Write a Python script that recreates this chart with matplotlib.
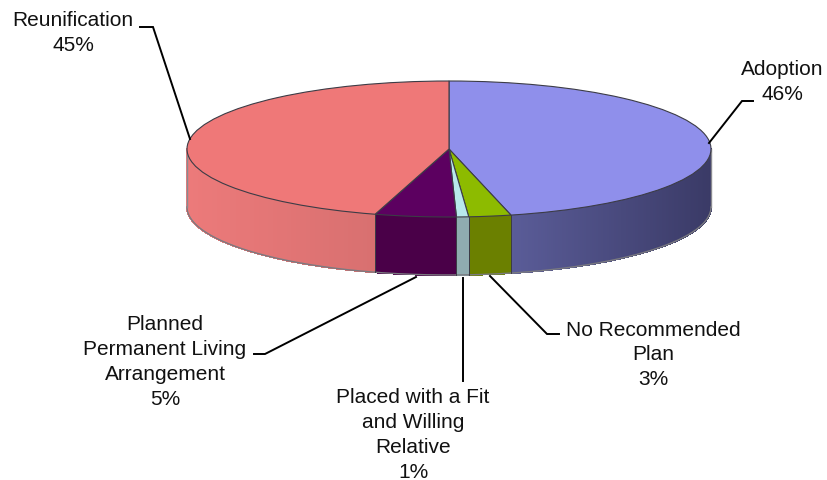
import numpy as np
import matplotlib
matplotlib.use("Agg")
import matplotlib.pyplot as plt
from matplotlib.lines import Line2D
from matplotlib.colors import to_rgb

plt.rcParams['font.family'] = ['Liberation Sans', 'DejaVu Sans']

categories = ["Adoption", "No Recommended\nPlan", "Placed with a Fit\nand Willing\nRelative",
              "Planned\nPermanent Living\nArrangement", "Reunification"]
shown_pct = ["46%", "3%", "1%", "5%", "45%"]
values = [46.2, 2.6, 0.75, 5.0, 45.45]
top_colors = ["#8F8FEB", "#8DBB00", "#B8E8EC", "#5C0060", "#EF7878"]
side_left = ["#5A5C98", "#6B8000", "#8FACB0", "#4A0048", "#EC7A7A"]
side_right = ["#3A3A66", "#6B8000", "#8FACB0", "#4A0048", "#D87070"]

W, H = 827, 481
CX, CY, RX, RY, DEPTH = 449, 150, 262, 68, 58

fig = plt.figure(figsize=(W / 100, H / 100), dpi=100)
ax = fig.add_axes([0, 0, 1, 1])

def fx(px):
    return px / W

def fy(py):
    return 1 - py / H

vals = np.array(values)
edges = np.concatenate([[0], np.cumsum(vals) / vals.sum() * 360])
d = DEPTH / RY
edge_col = "#3c3c46"

# side wall, front half only
for i in range(len(vals)):
    a0, a1 = max(edges[i], 90), min(edges[i + 1], 270)
    if a1 <= a0:
        continue
    th = np.radians(np.linspace(a0, a1, max(int((a1 - a0) * 2), 2) + 1))
    x0, x1 = np.sin(th).min(), np.sin(th).max()
    cl, cr = np.array(to_rgb(side_left[i])), np.array(to_rgb(side_right[i]))
    for t0, t1 in zip(th[:-1], th[1:]):
        xs = np.array([np.sin(t0), np.sin(t1), np.sin(t1), np.sin(t0)])
        ys = np.array([np.cos(t0), np.cos(t1), np.cos(t1) - d, np.cos(t0) - d])
        f = ((xs.mean() - x0) / (x1 - x0)) if x1 > x0 else 0
        col = cl + (cr - cl) * f
        ax.fill(xs, ys, color=col, lw=0.8, antialiased=False, zorder=1)
    th_line = np.radians(np.linspace(a0, a1, 200))
    ax.plot(np.sin(th_line), np.cos(th_line) - d, color="#7a7a80", lw=1.0, zorder=2)
    for a in (a0, a1):
        if a in (90, 270):
            ax.plot([np.sin(np.radians(a))] * 2, [0, -d], color="#8a8a90", lw=1.0, zorder=2)
        else:
            t = np.radians(a)
            ax.plot([np.sin(t)] * 2, [np.cos(t), np.cos(t) - d], color=edge_col, lw=0.7, zorder=2)

# top face
wedges, _ = ax.pie(vals, colors=top_colors, startangle=90, counterclock=False, radius=1,
                   wedgeprops=dict(edgecolor=edge_col, linewidth=0.8))
for w in wedges:
    w.set_zorder(3)

ax.set_aspect('auto')
ax.set_xlim((0 - CX) / RX, (W - CX) / RX)
ax.set_ylim((CY - H) / RY, (CY - 0) / RY)
ax.axis('off')

# leader lines (pixel layout)
leaders = [
    [(709, 144), (742, 102), (753, 102)],
    [(490, 277), (547, 335), (559, 335)],
    [(463, 279), (463, 382)],
    [(416, 278), (265, 355), (254, 355)],
    [(190, 140), (153, 28), (140, 28)],
]
for pts in leaders:
    xs, ys = zip(*pts)
    fig.add_artist(Line2D([fx(p) for p in xs], [fy(p) for p in ys], color="black", lw=1.4,
                          transform=fig.transFigure, solid_joinstyle='miter'))

# labels
anchors = [(782, 82), (653, 355), (413, 435), (165, 362), (73, 33)]
for name, pct, (x, y) in zip(categories, shown_pct, anchors):
    fig.text(fx(x), fy(y), name + "\n" + pct, ha='center', va='center', fontsize=15,
             color="#111111", linespacing=1.38)

fig.savefig("out.png", dpi=100)
